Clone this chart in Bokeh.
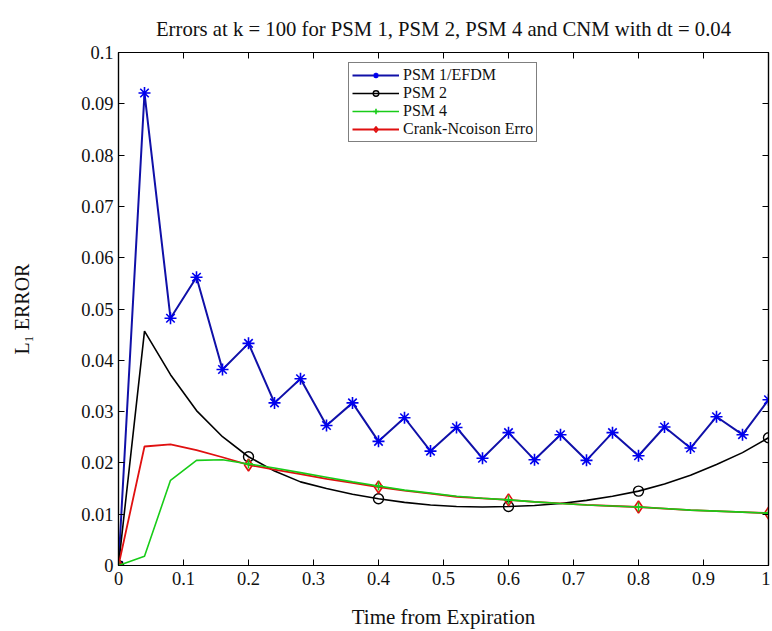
from bokeh.plotting import figure
from bokeh.models import (LinearAxis, FixedTicker, CustomJSTickFormatter, Range1d,
                          Legend, LegendItem, Title)
from bokeh.embed import file_html
from bokeh.resources import INLINE

# ---- data ----
t = [0.00, 0.04, 0.08, 0.12, 0.16, 0.20, 0.24, 0.28, 0.32, 0.36, 0.40, 0.44, 0.48,
     0.52, 0.56, 0.60, 0.64, 0.68, 0.72, 0.76, 0.80, 0.84, 0.88, 0.92, 0.96, 1.00]

psm1 = [0.0, 0.0921, 0.0482, 0.0562, 0.0382, 0.0433, 0.0317, 0.0364, 0.0273, 0.0317,
        0.0242, 0.0288, 0.0223, 0.0269, 0.0209, 0.0259, 0.0206, 0.0255, 0.0205, 0.0259,
        0.0214, 0.0270, 0.0229, 0.0290, 0.0255, 0.0323]

psm2 = [0.0, 0.0457, 0.0372, 0.0302, 0.0251, 0.0212, 0.0184, 0.0163, 0.0150, 0.0139,
        0.0130, 0.0123, 0.0118, 0.0115, 0.0114, 0.0115, 0.0117, 0.0121, 0.0127, 0.0135,
        0.0145, 0.0159, 0.0176, 0.0197, 0.0220, 0.0249]

psm4 = [0.0, 0.0018, 0.0166, 0.0205, 0.0206, 0.0198, 0.0190, 0.0181, 0.0172, 0.0163,
        0.0155, 0.0147, 0.0141, 0.0135, 0.0131, 0.0128, 0.0124, 0.0121, 0.0118, 0.0116,
        0.0114, 0.0111, 0.0108, 0.0106, 0.0104, 0.0102]

cnm = [0.0, 0.0232, 0.0236, 0.0225, 0.0211, 0.0196, 0.0187, 0.0178, 0.0169, 0.0161,
       0.0153, 0.0146, 0.0140, 0.0134, 0.0131, 0.0128, 0.0124, 0.0121, 0.0118, 0.0116,
       0.0114, 0.0111, 0.0108, 0.0106, 0.0104, 0.0102]

marker_step = 5  # markers for PSM 2, PSM 4 and CNM every 0.2

title_text = "Errors at k = 100 for PSM 1, PSM 2, PSM 4 and CNM with dt = 0.04"
labels = ["PSM 1/EFDM", "PSM 2", "PSM 4", "Crank-Ncoison Erro"]
x_ticks = [0, 0.1, 0.2, 0.3, 0.4, 0.5, 0.6, 0.7, 0.8, 0.9, 1.0]
y_ticks = [0, 0.01, 0.02, 0.03, 0.04, 0.05, 0.06, 0.07, 0.08, 0.09, 0.1]

FONT = "Liberation Serif"

p = figure(width=770, height=631, output_backend="svg", toolbar_location=None,
           x_range=Range1d(0, 1), y_range=Range1d(0, 0.1),
           min_border_left=118, min_border_right=2, min_border_top=52, min_border_bottom=66)
p.grid.visible = False
p.outline_line_color = "black"
p.outline_line_width = 1.2
p.background_fill_color = "white"

p.title = Title(text=title_text, text_font=FONT, text_font_size="20.7px",
                text_font_style="normal", align="center", text_color="#111111",
                standoff=26)

fmt = CustomJSTickFormatter(code="""
var s = tick.toFixed(2);
s = s.replace(/0+$/, '').replace(/\\.$/, '');
return s;
""")

for ax in p.xaxis:
    ax.ticker = FixedTicker(ticks=x_ticks)
for ax in p.yaxis:
    ax.ticker = FixedTicker(ticks=y_ticks)

for ax in list(p.xaxis) + list(p.yaxis):
    ax.formatter = fmt
    ax.major_tick_in = 6
    ax.major_tick_out = 0
    ax.minor_tick_line_color = None
    ax.axis_line_color = "black"
    ax.axis_line_width = 1.2
    ax.major_label_text_font = FONT
    ax.major_label_text_font_size = "18.5px"
    ax.major_label_text_color = "#111111"
    ax.axis_label_text_font = FONT
    ax.axis_label_text_font_style = "normal"
    ax.axis_label_text_color = "#111111"

p.xaxis.axis_label = "Time from Expiration"
p.xaxis.axis_label_text_font_size = "21px"
p.xaxis.major_label_standoff = 6
p.xaxis.axis_label_standoff = 17
p.yaxis.axis_label = "L\u2081 ERROR"
p.yaxis.axis_label_text_font_size = "20px"
p.yaxis.major_label_standoff = 5
p.yaxis.axis_label_standoff = 45

top_ax = LinearAxis(ticker=FixedTicker(ticks=x_ticks), major_tick_in=6, major_tick_out=0,
                    minor_tick_line_color=None, major_label_text_font_size="0px",
                    major_label_text_color=None,
                    major_label_standoff=0, axis_line_width=1.2)
right_ax = LinearAxis(ticker=FixedTicker(ticks=y_ticks), major_tick_in=6, major_tick_out=0,
                      minor_tick_line_color=None, major_label_text_font_size="0px",
                      major_label_text_color=None,
                      major_label_standoff=0, axis_line_width=1.2)
p.add_layout(top_ax, "above")
p.add_layout(right_ax, "right")

ms = marker_step
# PSM 1
l1 = p.line(t, psm1, line_color="#1010a8", line_width=2)
m1 = p.scatter(t, psm1, marker="asterisk", size=12, line_color="#0000ee", line_width=1.6)
# PSM 2
l2 = p.line(t, psm2, line_color="black", line_width=1.6)
m2 = p.scatter(t[::ms], psm2[::ms], marker="circle", size=10, line_color="black",
               fill_color=None, line_width=1.4)
# CNM
l4 = p.line(t, cnm, line_color="#e01010", line_width=1.8)
m4 = p.scatter(t[::ms], cnm[::ms], marker="diamond", size=12, line_color="#e01010",
               fill_color=None, line_width=1.6)
# PSM 4
l3 = p.line(t, psm4, line_color="#18cc18", line_width=1.6)
m3 = p.scatter(t[::ms], psm4[::ms], marker="cross", size=9, line_color="#18cc18",
               line_width=1.6)

legend = Legend(items=[LegendItem(label=labels[0], renderers=[l1, m1]),
                       LegendItem(label=labels[1], renderers=[l2, m2]),
                       LegendItem(label=labels[2], renderers=[l3, m3]),
                       LegendItem(label=labels[3], renderers=[l4, m4])],
                location=(230, 423), orientation="vertical",
                label_text_font=FONT, label_text_font_size="16px", label_text_color="#111111",
                glyph_width=47, glyph_height=14, label_standoff=4, spacing=0,
                padding=3, margin=0, border_line_color="black", border_line_width=1.2,
                label_height=14, background_fill_alpha=1.0)
p.add_layout(legend, "center")

open("out.html", "w").write(file_html(p, INLINE))
